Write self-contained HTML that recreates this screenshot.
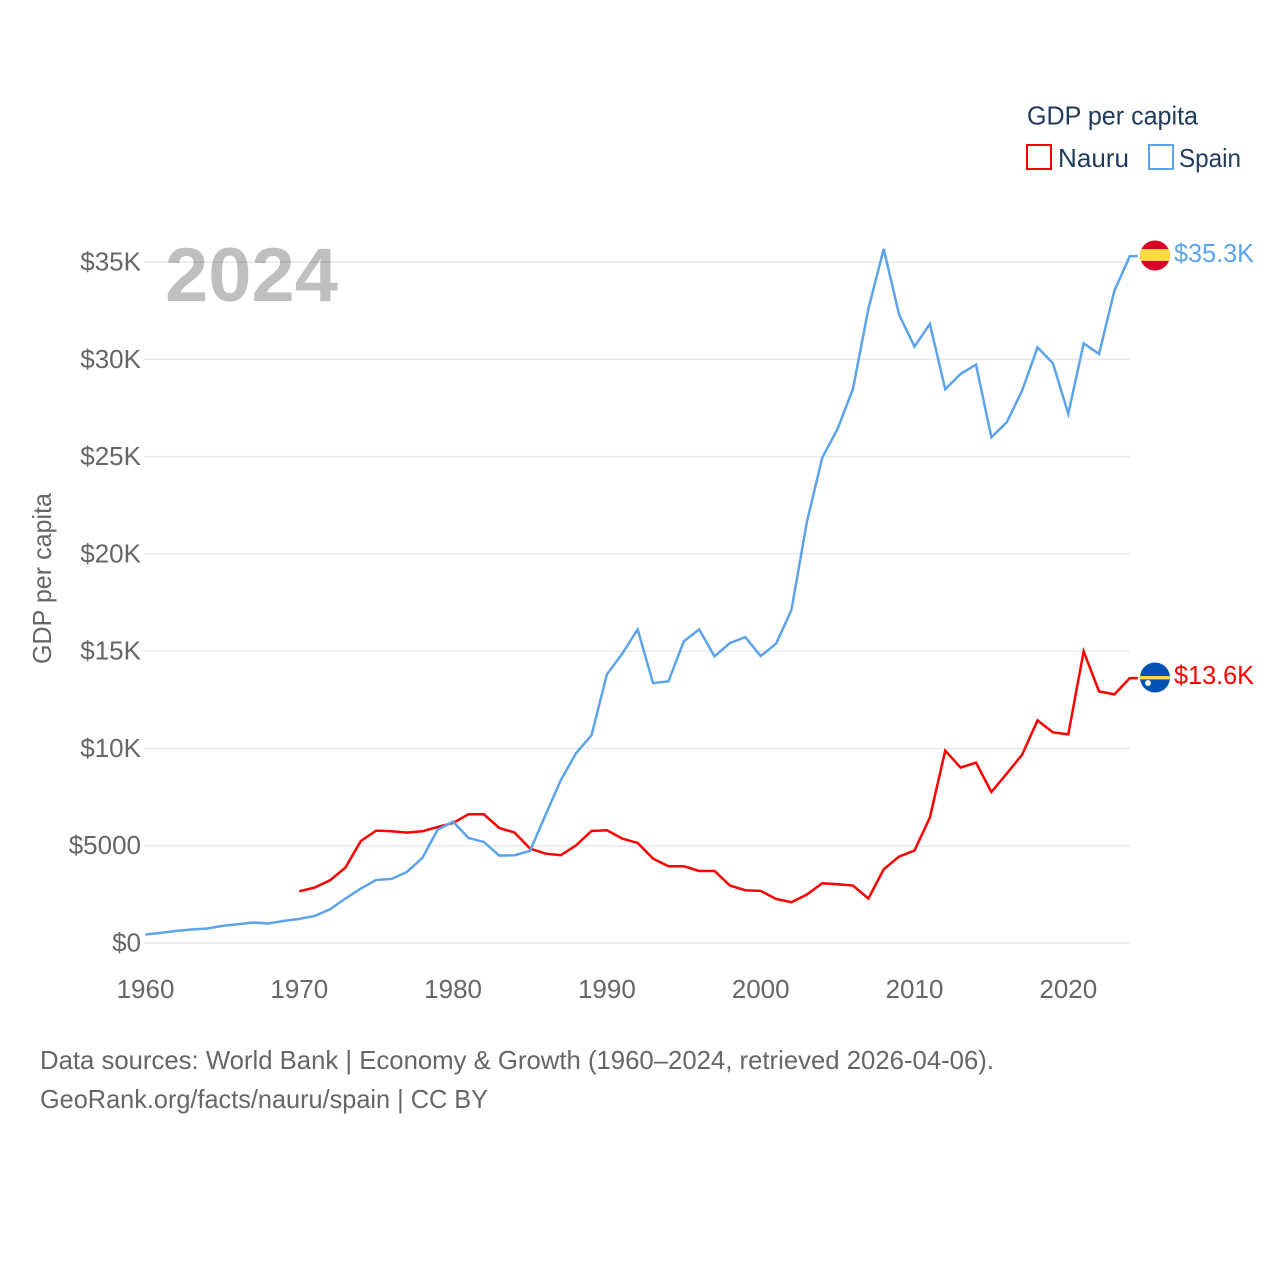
<!DOCTYPE html>
<html lang="en">
<head>
<meta charset="utf-8">
<title>GDP per capita: Nauru and Spain</title>
<style>
html,body{margin:0;padding:0;background:#fff;}
svg{display:block;font-family:"Liberation Sans",sans-serif;}
</style>
</head>
<body>
<svg id="chart" width="1280" height="1280" viewBox="0 0 1280 1280" xmlns="http://www.w3.org/2000/svg">
  <rect x="0" y="0" width="1280" height="1280" fill="#ffffff"/>
  <g id="grid"></g>
  <g id="yTicks"></g>
  <g id="xTicks"></g>
  <text x="165" y="301" font-size="76" font-weight="700" fill="#000" fill-opacity="0.25" textLength="173" lengthAdjust="spacingAndGlyphs">2024</text>
  <text transform="translate(51,664) rotate(-90)" font-size="26" fill="#666666" textLength="171" lengthAdjust="spacingAndGlyphs">GDP per capita</text>
  <g id="series"></g>

  <g>
    <clipPath id="esClip"><circle cx="1155" cy="255.5" r="15"/></clipPath>
    <g clip-path="url(#esClip)">
      <rect x="1140" y="240" width="30" height="31" fill="#d80027"/>
      <rect x="1140" y="249" width="30" height="12" fill="#ffda44"/>
    </g>
  </g>
  <g>
    <clipPath id="nrClip"><circle cx="1155" cy="677.5" r="15"/></clipPath>
    <g clip-path="url(#nrClip)">
      <rect x="1140" y="662" width="30" height="31" fill="#0052b4"/>
      <rect x="1140" y="676" width="30" height="3.4" fill="#ffda44"/>
      <circle cx="1148" cy="683" r="3" fill="#f0f0f0"/>
    </g>
  </g>
  <text id="spainValue" x="1174" y="262" font-size="26" fill="#5ba4ec" textLength="80" lengthAdjust="spacingAndGlyphs">$35.3K</text>
  <text id="nauruValue" x="1174" y="684" font-size="26" fill="#ff0000" textLength="80" lengthAdjust="spacingAndGlyphs">$13.6K</text>

  <g>
    <text x="1027" y="124.5" font-size="26" fill="#1f3a5c" textLength="171" lengthAdjust="spacingAndGlyphs">GDP per capita</text>
    <g>
      <rect x="1027" y="145" width="24" height="24" fill="none" stroke="#ff0000" stroke-width="2"/>
      <text x="1058" y="167" font-size="26" fill="#1f3a5c" textLength="71" lengthAdjust="spacingAndGlyphs">Nauru</text>
    </g>
    <g>
      <rect x="1149" y="145" width="24" height="24" fill="none" stroke="#5ba4ec" stroke-width="2"/>
      <text x="1179" y="167" font-size="26" fill="#1f3a5c" textLength="62" lengthAdjust="spacingAndGlyphs">Spain</text>
    </g>
  </g>

  <text x="40" y="1069" font-size="26" fill="#666666" textLength="954" lengthAdjust="spacingAndGlyphs">Data sources: World Bank | Economy &amp; Growth (1960–2024, retrieved 2026-04-06).</text>
  <text x="40" y="1108" font-size="26" fill="#666666" textLength="448" lengthAdjust="spacingAndGlyphs">GeoRank.org/facts/nauru/spain | CC BY</text>
</svg>
<script>
const spainYears = [1960,1961,1962,1963,1964,1965,1966,1967,1968,1969,1970,1971,1972,1973,1974,1975,1976,1977,1978,1979,1980,1981,1982,1983,1984,1985,1986,1987,1988,1989,1990,1991,1992,1993,1994,1995,1996,1997,1998,1999,2000,2001,2002,2003,2004,2005,2006,2007,2008,2009,2010,2011,2012,2013,2014,2015,2016,2017,2018,2019,2020,2021,2022,2023,2024];
const spainValues = [437,519,621,693,745,878,966,1053,1002,1135,1238,1392,1736,2286,2799,3241,3292,3652,4371,5829,6240,5398,5193,4494,4510,4730,6564,8362,9764,10673,13806,14869,16117,13359,13446,15501,16117,14730,15414,15722,14746,15383,17119,21628,24936,26425,28480,32589,35670,32296,30652,31818,28459,29250,29728,25994,26764,28392,30616,29795,27196,30822,30277,33529,35300];
const nauruYears = [1970,1971,1972,1973,1974,1975,1976,1977,1978,1979,1980,1981,1982,1983,1984,1985,1986,1987,1988,1989,1990,1991,1992,1993,1994,1995,1996,1997,1998,1999,2000,2001,2002,2003,2004,2005,2006,2007,2008,2009,2010,2011,2012,2013,2014,2015,2016,2017,2018,2019,2020,2021,2022,2023,2024];
const nauruValues = [2660,2851,3225,3878,5244,5778,5742,5675,5742,5963,6168,6615,6615,5912,5675,4854,4597,4510,5023,5758,5794,5367,5141,4340,3945,3945,3703,3703,2953,2712,2676,2265,2096,2491,3071,3020,2953,2286,3790,4443,4751,6446,9887,9014,9271,7761,8706,9682,11443,10827,10724,14987,12933,12779,13616];
const yTickValues = [0,5000,10000,15000,20000,25000,30000,35000];
const yTickLabels = ["$0","$5000","$10K","$15K","$20K","$25K","$30K","$35K"];
const xTickValues = [1960,1970,1980,1990,2000,2010,2020];

const SVG_NS = "http://www.w3.org/2000/svg";
function xScale(year){ return 145.5 + (year - 1960) * (984.3 / 64); }
function yScale(value){ return 943 - value * (681 / 35000); }

const gridGroup = document.getElementById("grid");
const yTickGroup = document.getElementById("yTicks");
const xTickGroup = document.getElementById("xTicks");
const seriesGroup = document.getElementById("series");

yTickValues.forEach(function(value, i){
  const line = document.createElementNS(SVG_NS, "line");
  
  
  line.setAttribute("x1", 144);
  line.setAttribute("x2", xScale(2024));
  line.setAttribute("y1", yScale(value));
  line.setAttribute("y2", yScale(value));
  line.setAttribute("stroke", "#e9e9e9");
  line.setAttribute("stroke-width", "1.5");
  gridGroup.appendChild(line);

  const label = document.createElementNS(SVG_NS, "text");
  
  
  label.setAttribute("x", 141);
  label.setAttribute("y", yScale(value) + 8.5);
  label.setAttribute("text-anchor", "end");
  label.setAttribute("font-size", "26");
  label.setAttribute("fill", "#666666");
  label.textContent = yTickLabels[i];
  yTickGroup.appendChild(label);
});

xTickValues.forEach(function(year){
  const label = document.createElementNS(SVG_NS, "text");
  
  
  label.setAttribute("x", xScale(year));
  label.setAttribute("y", 998);
  label.setAttribute("text-anchor", "middle");
  label.setAttribute("font-size", "26");
  label.setAttribute("fill", "#666666");
  label.textContent = String(year);
  xTickGroup.appendChild(label);
});

function buildPoints(years, values){
  const pts = years.map(function(year, i){
    return xScale(year).toFixed(2) + "," + yScale(values[i]).toFixed(2);
  });
  const lastY = yScale(values[values.length - 1]).toFixed(2);
  pts.push((xScale(years[years.length - 1]) + 8).toFixed(2) + "," + lastY);
  return pts.join(" ");
}

const nauruLine = document.createElementNS(SVG_NS, "polyline");


nauruLine.setAttribute("points", buildPoints(nauruYears, nauruValues));
nauruLine.setAttribute("fill", "none");
nauruLine.setAttribute("stroke", "#ff0000");
nauruLine.setAttribute("stroke-width", "2.5");
nauruLine.setAttribute("stroke-linejoin", "miter");
seriesGroup.appendChild(nauruLine);

const spainLine = document.createElementNS(SVG_NS, "polyline");


spainLine.setAttribute("points", buildPoints(spainYears, spainValues));
spainLine.setAttribute("fill", "none");
spainLine.setAttribute("stroke", "#5ba4ec");
spainLine.setAttribute("stroke-width", "2.5");
spainLine.setAttribute("stroke-linejoin", "miter");
seriesGroup.appendChild(spainLine);
</script>
</body>
</html>
